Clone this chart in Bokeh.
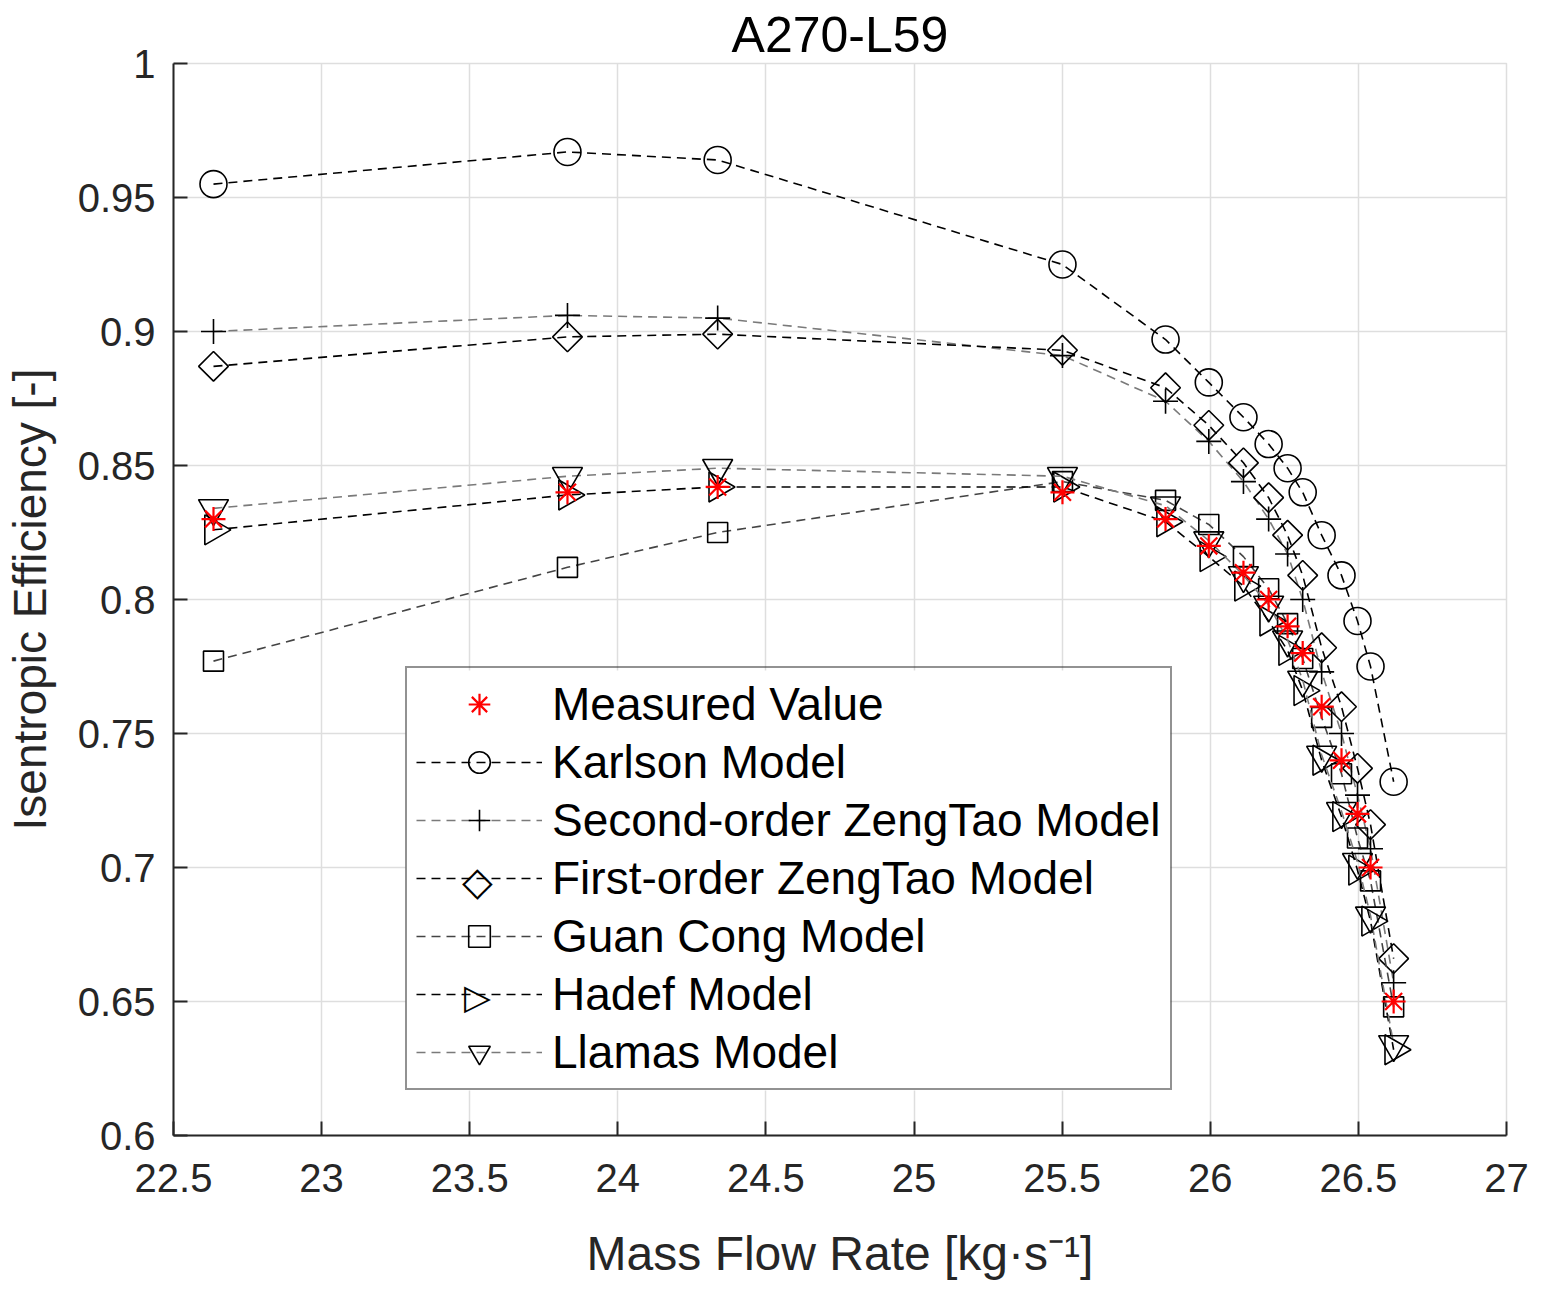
import numpy as np
from bokeh.plotting import figure
from bokeh.models import Legend, LegendItem, FixedTicker, Range1d
from bokeh.core.properties import value
from bokeh.embed import file_html
from bokeh.resources import INLINE

title_text = "A270-L59"
x_label = "Mass Flow Rate [kg·s⁻¹]"
y_label = "Isentropic Efficiency [-]"

x_ticks = [22.5, 23.0, 23.5, 24.0, 24.5, 25.0, 25.5, 26.0, 26.5, 27.0]
x_tick_labels = ["22.5", "23", "23.5", "24", "24.5", "25", "25.5", "26", "26.5", "27"]
y_ticks = [0.6, 0.65, 0.7, 0.75, 0.8, 0.85, 0.9, 0.95, 1.0]
y_tick_labels = ["0.6", "0.65", "0.7", "0.75", "0.8", "0.85", "0.9", "0.95", "1"]

mass_flow = [22.635, 23.830, 24.337, 25.501, 25.849, 25.995, 26.112, 26.197, 26.261,
             26.312, 26.376, 26.443, 26.497, 26.541, 26.619]
measured = [0.830, 0.840, 0.842, 0.840, 0.830, 0.820, 0.810, 0.800, 0.790,
            0.780, 0.760, 0.740, 0.720, 0.700, 0.650]
karlson = [0.955, 0.967, 0.964, 0.925, 0.897, 0.881, 0.868, 0.858, 0.849,
           0.840, 0.824, 0.809, 0.792, 0.775, 0.732]
second_order = [0.900, 0.906, 0.905, 0.891, 0.874, 0.859, 0.844, 0.830, 0.817,
                0.800, 0.773, 0.750, 0.727, 0.707, 0.657]
first_order = [0.887, 0.898, 0.899, 0.893, 0.879, 0.865, 0.851, 0.838, 0.824,
               0.809, 0.782, 0.760, 0.737, 0.716, 0.666]
guan_cong = [0.777, 0.812, 0.825, 0.844, 0.837, 0.828, 0.816, 0.804, 0.791,
             0.778, 0.756, 0.735, 0.711, 0.695, 0.648]
hadef = [0.826, 0.839, 0.842, 0.842, 0.829, 0.816, 0.805, 0.792, 0.781,
         0.766, 0.740, 0.719, 0.699, 0.680, 0.632]
llamas = [0.834, 0.846, 0.849, 0.846, 0.835, 0.822, 0.809, 0.798, 0.785,
          0.770, 0.742, 0.721, 0.702, 0.682, 0.634]

FONT = "Liberation Sans"
AX = "#262626"
GRID = "#dedede"
X0, X1, Y0, Y1 = 22.5, 27.0, 0.6, 1.0
W, H = 1546, 1299
B_LEFT, B_RIGHT, B_TOP, B_BOTTOM = 173, 40, 63, 164
FRAME_W, FRAME_H = W - B_LEFT - B_RIGHT, H - B_TOP - B_BOTTOM


def sx_to_x(sx):
    return X0 + sx / FRAME_W * (X1 - X0)


def sy_to_y(sy):
    return Y0 + sy / FRAME_H * (Y1 - Y0)


p = figure(width=W, height=H, x_range=Range1d(X0, X1), y_range=Range1d(Y0, Y1),
           output_backend="svg", toolbar_location=None,
           min_border_left=B_LEFT, min_border_right=B_RIGHT,
           min_border_top=B_TOP, min_border_bottom=B_BOTTOM)
p.background_fill_color = "white"
p.border_fill_color = "white"
p.outline_line_color = GRID
p.outline_line_width = 1.5

p.title.text = title_text
p.title.align = "center"
p.title.text_font = FONT
p.title.text_font_size = "50px"
p.title.text_font_style = "normal"
p.title.text_color = "black"
p.title.standoff = 2

p.xaxis.ticker = FixedTicker(ticks=x_ticks)
p.xaxis.major_label_overrides = dict(zip(x_ticks, x_tick_labels))
p.yaxis.ticker = FixedTicker(ticks=y_ticks)
p.yaxis.major_label_overrides = dict(zip(y_ticks, y_tick_labels))
p.xaxis.axis_label = x_label
p.yaxis.axis_label = y_label

for ax in (p.xaxis[0], p.yaxis[0]):
    ax.axis_line_color = AX
    ax.axis_line_width = 2
    ax.major_tick_in = 14
    ax.major_tick_out = 0
    ax.major_tick_line_color = AX
    ax.major_tick_line_width = 2
    ax.minor_tick_line_color = None
    ax.major_label_text_font = FONT
    ax.major_label_text_font_size = "40px"
    ax.major_label_text_color = AX
    ax.axis_label_text_font = FONT
    ax.axis_label_text_font_style = "normal"
    ax.axis_label_text_color = AX
p.xaxis.axis_label_text_font_size = "48px"
p.yaxis.axis_label_text_font_size = "46px"
p.xaxis.major_label_standoff = 28
p.yaxis.major_label_standoff = 18
p.xaxis.axis_label_standoff = 32
p.yaxis.axis_label_standoff = 19

p.grid.grid_line_color = GRID
p.grid.grid_line_width = 1.5

# legend geometry (screen px, relative to the frame's bottom-left)
LEG_X, LEG_Y = 232, 45
PAD, ROW_H, SPACING, GLYPH_W = 9, 54, 4, 126
LEG_W = 765
N_ROWS = 7
LEG_H = 2 * PAD + N_ROWS * ROW_H + (N_ROWS - 1) * SPACING
LEG_TOP = LEG_Y + LEG_H

# white backing of the legend box (hides the grid); the legend itself is transparent
p.quad(left=[sx_to_x(LEG_X)], right=[sx_to_x(LEG_X + LEG_W)],
       bottom=[sy_to_y(LEG_Y)], top=[sy_to_y(LEG_TOP)],
       fill_color="white", line_color=None)


def add_model(y, line_color, marker, size, label, angle=0.0, marker_in_legend=True):
    lr = p.line(mass_flow, y, line_color=line_color, line_width=1.6, line_dash="9 6")
    sr = p.scatter(mass_flow, y, marker=marker, size=size, angle=angle,
                   fill_color=None, line_color="black", line_width=1.6)
    rends = [lr, sr] if marker_in_legend else [lr]
    return LegendItem(label=label, renderers=rends)


it_k = add_model(karlson, "black", "circle", 27, "Karlson Model")
it_s = add_model(second_order, "#7a7a7a", "cross", 25, "Second-order ZengTao Model")
it_f = add_model(first_order, "black", "square", 21, "First-order ZengTao Model",
                 angle=np.pi / 4, marker_in_legend=False)
it_g = add_model(guan_cong, "#444444", "square", 20, "Guan Cong Model")
it_h = add_model(hadef, "black", "triangle", 30, "Hadef Model",
                 angle=-np.pi / 2, marker_in_legend=False)
it_l = add_model(llamas, "#7a7a7a", "inverted_triangle", 30, "Llamas Model")

meas_r = p.scatter(mass_flow, measured, marker="asterisk", size=24, line_color="red", line_width=2.2)
it_m = LegendItem(label="Measured Value", renderers=[meas_r])

# rotated legend symbols (Bokeh legends always draw markers unrotated),
# placed at the legend-glyph centres of the First-order and Hadef rows
sym_sx = LEG_X + PAD + GLYPH_W / 2
sym_x, sym_y, sym_t, sym_sz = [], [], [], []
for row, sym, fsize in ((3, "\u25C7", "40px"), (5, "\u25B7", "35px")):
    sy = LEG_TOP - (PAD + row * (ROW_H + SPACING) + ROW_H / 2)
    sym_x.append(sx_to_x(sym_sx))
    sym_y.append(sy_to_y(sy))
    sym_t.append(sym)
    sym_sz.append(fsize)
p.text(x=sym_x, y=sym_y, text=sym_t, text_font=value("DejaVu Sans"), text_font_size=sym_sz,
       text_color="black", text_align="center", text_baseline="middle")

legend_items = [it_m, it_k, it_s, it_f, it_g, it_h, it_l]
legend = Legend(items=legend_items, location=(LEG_X, LEG_Y),
                label_text_font=FONT, label_text_font_size="46px", label_text_color="black",
                glyph_width=GLYPH_W, glyph_height=ROW_H, label_height=ROW_H, spacing=SPACING,
                padding=PAD, margin=0, label_standoff=10, border_line_color=AX,
                border_line_width=2, background_fill_alpha=0.0)
p.add_layout(legend)

open("out.html", "w").write(file_html(p, INLINE))
